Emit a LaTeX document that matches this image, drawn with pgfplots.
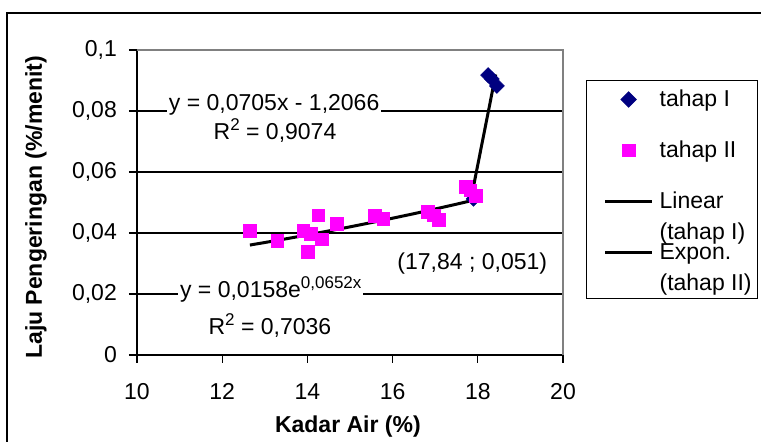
\documentclass[border=0pt]{standalone}
\usepackage{pgfplots}
\pgfplotsset{compat=1.18}
\usepackage{fontspec}
\setmainfont{Liberation Sans}
\definecolor{navyI}{RGB}{0,0,128}
\definecolor{magII}{RGB}{255,0,255}
\newcommand\cf{\fontsize{23}{27}\selectfont}
\newcommand\lstrut{\rule[-6pt]{0pt}{26pt}}
\newcommand\supx[1]{\raisebox{9pt}{\fontsize{17}{19}\selectfont #1}}
\pgfplotsset{
  markleg/.style={legend image code/.code={\path (0pt,0pt); \draw[mark repeat=2,mark phase=2,##1] plot coordinates {(11pt,7pt) (34.5pt,7pt) (58pt,7pt)};}},
  lineleg/.style={legend image code/.code={\path (0pt,0pt); \draw[##1] (11pt,7pt) -- (58pt,7pt);}},
}

\begin{document}
\begin{tikzpicture}
\useasboundingbox (0pt,0pt) rectangle (761pt,442pt);
\draw[line width=2pt] (7pt,-40pt) rectangle (800pt,429pt);
\begin{axis}[
  at={(137pt,87pt)}, anchor=south west,
  width=426pt, height=305pt, scale only axis,
  xmin=10, xmax=20, ymin=0, ymax=0.1,
  xtick={10,12,...,20}, ytick={0,0.02,0.04,0.06,0.08,0.1},
  axis x line*=bottom, axis y line*=left,
  axis line style={black, line width=1.5pt, -},
  tick align=outside, major tick length=8pt,
  tick style={black, line width=1.2pt},
  ymajorgrids, major grid style={black, line width=1.2pt},
  /pgf/number format/.cd, fixed, use comma, assume math mode=true,
  /pgfplots/.cd,
  ticklabel style={font=\cf},
  yticklabel style={anchor=east, inner sep=0pt, xshift=-12pt},
  xticklabel style={anchor=north, inner sep=0pt, yshift=-20pt},
  xlabel={Kadar Air (\%)},
  ylabel={Laju Pengeringan (\%/menit)},
  label style={font=\cf\bfseries},
  xlabel style={at={(axis description cs:0.495,-0.233)}, anchor=center},
  ylabel style={at={(axis description cs:-0.237,0.484)}, anchor=center},
  every axis legend/.style={at={(axis description cs:1.054,0.902)}, anchor=north west,
    draw=black, line width=1.2pt, fill=white, inner xsep=6pt, inner ysep=6pt,
    cells={anchor=base west}, nodes={inner sep=0pt, anchor=base west, font=\cf},
    row sep=25pt, /tikz/every odd column/.style={column sep=6pt}},
  clip=false,
]
% tahap I
\addplot[only marks, mark=square*, mark size=5.3pt, color=navyI,
  mark options={rotate=45, fill=navyI, draw=navyI}, markleg]
  coordinates {(17.90,0.0512) (18.24,0.0918) (18.33,0.0905) (18.45,0.0882)};
\addlegendentry{\lstrut tahap I}
% tahap II
\addplot[only marks, mark=square*, mark size=6.3pt, color=magII,
  mark options={fill=magII, draw=magII}, markleg]
  coordinates {
  (12.65,0.0407) (13.29,0.0374) (13.90,0.0407) (14.08,0.0397) (14.01,0.0338)
  (14.25,0.0459) (14.34,0.0380) (14.69,0.0430) (15.58,0.0457) (15.78,0.0446)
  (16.82,0.0470) (16.96,0.0458) (17.08,0.0443) (17.72,0.0552) (17.82,0.0540)
  (17.95,0.0522)};
\addlegendentry{\lstrut tahap II}
% linear trend (tahap I)
\addplot[black, line width=3pt, no marks, lineleg]
  coordinates {(17.84,0.0511) (18.42,0.0920)};
\addlegendentry{\lstrut\smash{\begin{tabular}[t]{@{}l@{}}Linear\\[4pt](tahap I)\end{tabular}}}
% exponential trend (tahap II)
\addplot[black, line width=3pt, no marks, lineleg]
  coordinates {
  (12.65,0.03605) (13.0,0.03688) (13.5,0.03810) (14.0,0.03936) (14.5,0.04067)
  (15.0,0.04201) (15.5,0.04341) (16.0,0.04485) (16.5,0.04633) (17.0,0.04787)
  (17.5,0.04945) (17.9,0.05076)};
\addlegendentry{\lstrut\smash{\begin{tabular}[t]{@{}l@{}}Expon.\\[4pt](tahap II)\end{tabular}}\rule[-33pt]{0pt}{33pt}}

\draw[gray, line width=1.5pt] (rel axis cs:0,1) -- (rel axis cs:1,1) -- (rel axis cs:1,0);
\node[fill=white, inner sep=2pt, anchor=base, font=\cf] at (axis cs:13.22,0.0800) {y = 0,0705x - 1,2066\hspace{8pt}};
\node[inner sep=1pt, anchor=base, font=\cf] at (axis cs:13.24,0.0705) {R\supx{2} = 0,9074};
\node[fill=white, inner sep=2pt, anchor=base, font=\cf] at (axis cs:13.14,0.01869) {y = 0,0158e\supx{0,0652x}\hspace{4pt}};
\node[inner sep=1pt, anchor=base, font=\cf] at (axis cs:13.12,0.00656) {R\supx{2} = 0,7036};
\node[inner sep=1pt, anchor=base, font=\cf] at (axis cs:17.87,0.0279) {(17,84 ; 0,051)};
\end{axis}
\end{tikzpicture}
\end{document}
